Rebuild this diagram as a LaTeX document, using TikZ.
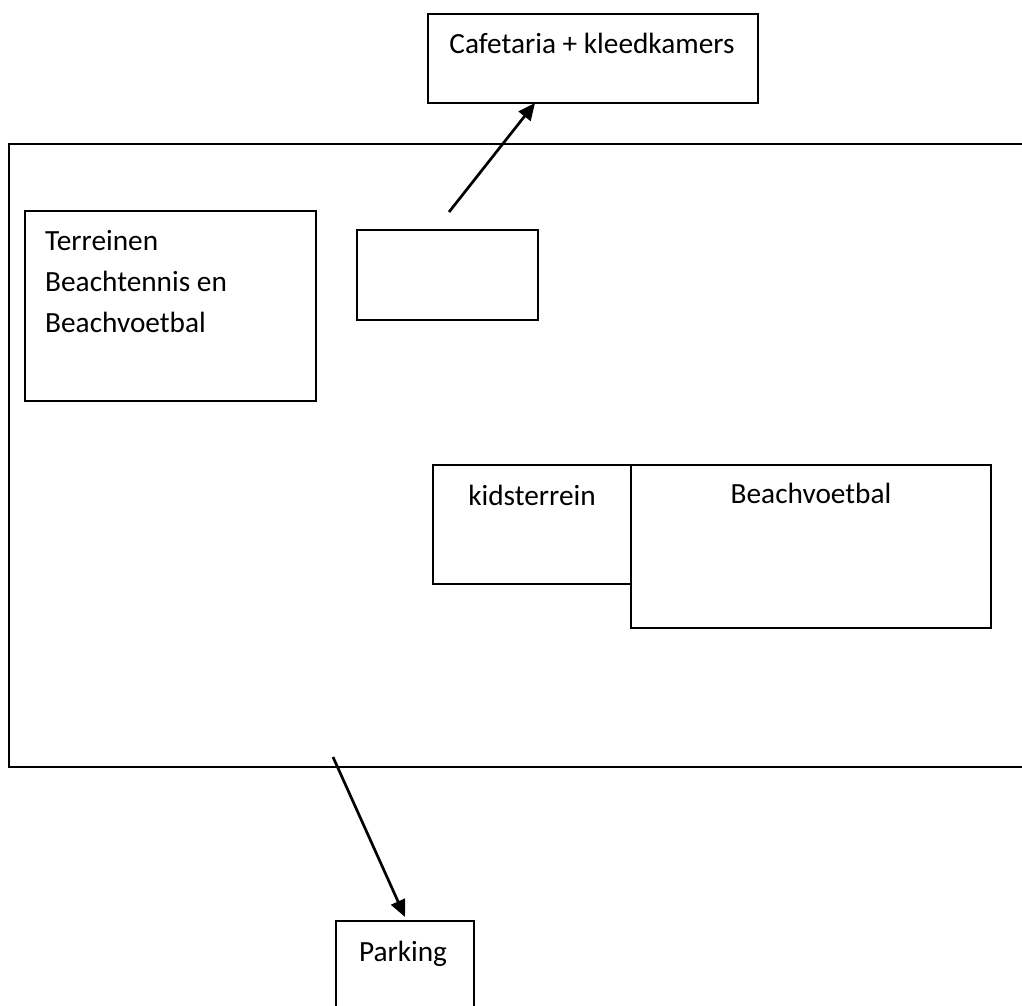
\documentclass[tikz,border=0pt]{standalone}
\usepackage{fontspec}
\setmainfont{Carlito}
\usetikzlibrary{arrows.meta}
\begin{document}
\begin{tikzpicture}[x=1pt,y=-1pt,
  box/.style={draw, line width=1.6pt, anchor=north west, inner sep=0pt, outer sep=0pt},
  lbl/.style={font=\fontsize{29.3}{41}\selectfont, inner sep=0pt, anchor=base},
  arr/.style={line width=2.7pt, -{Triangle[length=17pt,width=15pt]}}]
\useasboundingbox (0,0) rectangle (1022,1005);
\clip (0,0) rectangle (1022,1005);
\fill[white] (0,0) rectangle (1022,1005);
% site boundary (open to the right)
\draw[line width=1.6pt] (1030,144) -- (9,144) -- (9,767) -- (1030,767);
% boxes
\node[box, minimum width=330pt, minimum height=89pt] (cafe) at (428,14) {};
\node[box, minimum width=291pt, minimum height=190pt] (terr) at (25,211) {};
\node[box, minimum width=181pt, minimum height=90pt] (small) at (357,230) {};
\node[box, minimum width=198pt, minimum height=119pt] (kids) at (433,465) {};
\node[box, minimum width=360pt, minimum height=163pt] (beach) at (631,465) {};
\node[box, minimum width=138pt, minimum height=120pt] (park) at (336,921) {};
% labels
\node[lbl] (cafeT) at (592,53) {Cafetaria + kleedkamers};
\node[lbl, anchor=base west, align=left] (terrT) at (45,332) {Terreinen\\Beachtennis en\\Beachvoetbal};
\node[lbl] (kidsT) at (532,505) {kidsterrein};
\node[lbl] (beachT) at (811,503) {Beachvoetbal};
\node[lbl] (parkT) at (403,961) {Parking};
% arrows
\coordinate (a1s) at (449,212);
\draw[arr] (a1s) -- ([xshift=107pt]cafe.south west);
\coordinate (a2s) at (333,757);
\draw[arr] (a2s) -- ([xshift=69pt,yshift=4pt]park.north west);
\end{tikzpicture}
\end{document}
